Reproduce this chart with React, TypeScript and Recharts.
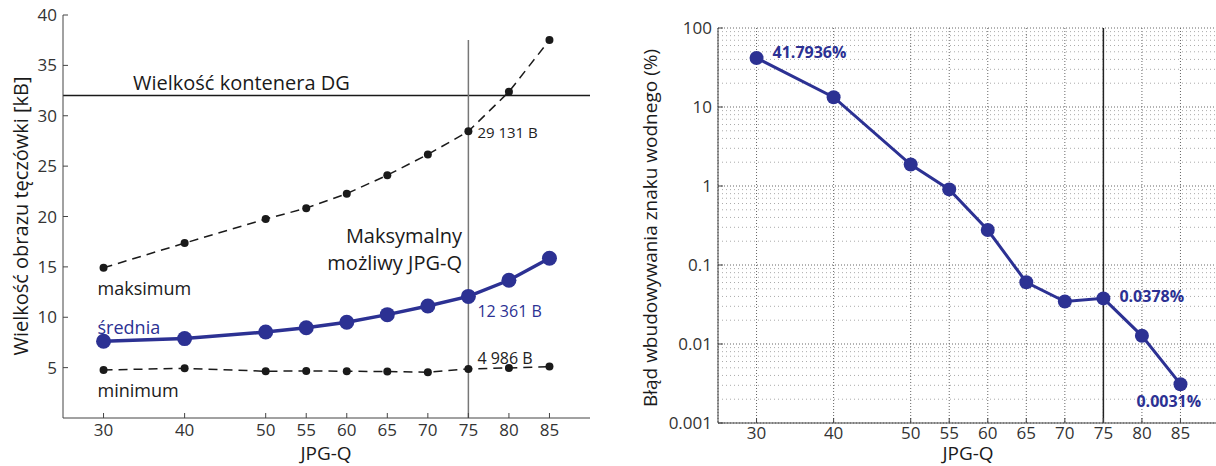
import { LineChart, Line, XAxis, YAxis, CartesianGrid, ReferenceLine } from "recharts";

// JPG quality factors on the x axis of both panels
const quality = [30, 40, 50, 55, 60, 65, 70, 75, 80, 85];

// iris image size [kB]
const sizeMax = [14.91, 17.36, 19.75, 20.83, 22.27, 24.1, 26.16, 28.45, 32.38, 37.51];
const sizeMean = [7.62, 7.88, 8.53, 8.96, 9.51, 10.26, 11.12, 12.07, 13.67, 15.86];
const sizeMin = [4.77, 4.93, 4.64, 4.67, 4.64, 4.61, 4.54, 4.87, 4.97, 5.1];

// watermark embedding error [%]
const errorPct = [41.7936, 13.3, 1.87, 0.906, 0.277, 0.0605, 0.0345, 0.0378, 0.0127, 0.0031];

const sizeTicks = [5, 10, 15, 20, 25, 30, 35, 40];
const errorTicks = [0.001, 0.01, 0.1, 1, 10, 100];
const minorSteps = [2, 3, 4, 5, 6, 7, 8, 9];
const containerKB = 32;
const maxQuality = 75;

const BLUE = "#2c3193";
const INK = "#1a1a1a";
const FONT = "'Open Sans', 'Noto Sans', sans-serif";

type Note = { index: number; text: string; dx: number; dy: number; color: string; size: number; bold?: boolean };

const maxNotes: Note[] = [
  { index: 0, text: "maksimum", dx: -6, dy: 20, color: INK, size: 18 },
  { index: 7, text: "29 131 B", dx: 9, dy: 1, color: "#222", size: 15 },
];
const meanNotes: Note[] = [
  { index: 0, text: "średnia", dx: -6, dy: -14, color: BLUE, size: 18 },
  { index: 7, text: "12 361 B", dx: 9, dy: 15, color: BLUE, size: 16 },
];
const minNotes: Note[] = [
  { index: 0, text: "minimum", dx: -6, dy: 20, color: INK, size: 18 },
  { index: 7, text: "4 986 B", dx: 9, dy: -11, color: "#222", size: 16 },
];
const errNotes: Note[] = [
  { index: 0, text: "41.7936%", dx: 16, dy: -6, color: BLUE, size: 16, bold: true },
  { index: 7, text: "0.0378%", dx: 16, dy: -2, color: BLUE, size: 16, bold: true },
  { index: 9, text: "0.0031%", dx: -44, dy: 17, color: BLUE, size: 16, bold: true },
];

const sizeRows = quality.map((q, i) => ({ q, max: sizeMax[i], mean: sizeMean[i], min: sizeMin[i] }));
const errRows = quality.map((q, i) => ({ q, err: errorPct[i] }));
const minorGrid = errorTicks.slice(0, -1).flatMap((d) => minorSteps.map((m) => +(d * m).toPrecision(3)));

function notes(list: Note[]) {
  return (p: any) => {
    const n = list.find((it) => it.index === p.index);
    if (!n) return null;
    const x = p.x ?? p.viewBox?.x;
    const y = p.y ?? p.viewBox?.y;
    return (
      <text
        key={`note-${p.index}`}
        x={x + n.dx}
        y={y + n.dy}
        fill={n.color}
        fontSize={n.size}
        fontWeight={n.bold ? 700 : 400}
        dominantBaseline="central"
        textAnchor="start"
      >
        {n.text}
      </text>
    );
  };
}

const tickStyle = { fill: "#333", fontSize: 17 };

function SizeChart() {
  return (
    <LineChart width={600} height={466} data={sizeRows} margin={{ top: 15, right: 10, left: 0, bottom: 0 }}>
      <XAxis
        dataKey="q"
        type="number"
        domain={[25, 90]}
        ticks={quality}
        height={48}
        tickSize={-5}
        tickMargin={11}
        stroke="#444"
        tick={tickStyle}
        allowDataOverflow
      />
      <YAxis
        type="number"
        domain={[0, 40]}
        ticks={sizeTicks}
        width={63}
        tickSize={-5}
        tickMargin={11}
        stroke="#444"
        tick={tickStyle}
        allowDataOverflow
      />
      <ReferenceLine y={containerKB} stroke={INK} strokeWidth={1.5} />
      <ReferenceLine
        segment={[
          { x: maxQuality, y: 0 },
          { x: maxQuality, y: Math.max(...sizeMax) },
        ]}
        stroke="#777"
        strokeWidth={1.5}
      />
      <Line
        dataKey="max"
        stroke={INK}
        strokeWidth={1.5}
        strokeDasharray="9 6"
        dot={{ r: 4, fill: INK, stroke: "none" }}
        label={notes(maxNotes)}
        isAnimationActive={false}
      />
      <Line
        dataKey="min"
        stroke={INK}
        strokeWidth={1.5}
        strokeDasharray="9 6"
        dot={{ r: 4, fill: INK, stroke: "none" }}
        label={notes(minNotes)}
        isAnimationActive={false}
      />
      <Line
        dataKey="mean"
        stroke={BLUE}
        strokeWidth={3.5}
        dot={{ r: 7.5, fill: BLUE, stroke: "none" }}
        label={notes(meanNotes)}
        isAnimationActive={false}
      />
      <text x={133} y={82} fontSize={20} fill={INK} dominantBaseline="central">
        Wielkość kontenera DG
      </text>
      <text x={462} y={235} fontSize={20} fill={INK} textAnchor="end" dominantBaseline="central">
        Maksymalny
      </text>
      <text x={462} y={262} fontSize={20} fill={INK} textAnchor="end" dominantBaseline="central">
        możliwy JPG-Q
      </text>
      <text x={326} y={453} fontSize={19} fill={INK} textAnchor="middle" dominantBaseline="central">
        JPG-Q
      </text>
      <text
        transform="translate(20,216) rotate(-90)"
        fontSize={20}
        fill={INK}
        textAnchor="middle"
        dominantBaseline="central"
      >
        Wielkość obrazu tęczówki [kB]
      </text>
    </LineChart>
  );
}

function ErrorChart() {
  return (
    <LineChart width={600} height={466} data={errRows} margin={{ top: 28, right: 1, left: 0, bottom: 0 }}>
      <CartesianGrid stroke="#666" strokeDasharray="1 2" />
      {minorGrid.map((v) => (
        <ReferenceLine key={v} y={v} stroke="#aaa" strokeDasharray="1 3" />
      ))}
      <XAxis
        dataKey="q"
        type="number"
        domain={[25, 90]}
        ticks={quality}
        height={43}
        tickSize={-5}
        tickMargin={9}
        stroke="#444"
        tick={tickStyle}
        allowDataOverflow
      />
      <YAxis
        type="number"
        scale="log"
        domain={[0.001, 100]}
        ticks={errorTicks}
        tickFormatter={(v: number) => String(v)}
        width={98}
        tickSize={-5}
        tickMargin={11}
        stroke="#444"
        tick={tickStyle}
        allowDataOverflow
      />
      <ReferenceLine x={maxQuality} stroke="#222" strokeWidth={1.5} />
      <Line
        dataKey="err"
        stroke={BLUE}
        strokeWidth={3}
        dot={{ r: 7, fill: BLUE, stroke: "none" }}
        label={notes(errNotes)}
        isAnimationActive={false}
      />
      <text x={348} y={453} fontSize={19} fill={INK} textAnchor="middle" dominantBaseline="central">
        JPG-Q
      </text>
      <text
        transform="translate(30,228) rotate(-90)"
        fontSize={19}
        fill={INK}
        textAnchor="middle"
        dominantBaseline="central"
      >
        Błąd wbudowywania znaku wodnego (%)
      </text>
    </LineChart>
  );
}

export default function App() {
  return (
    <div
      style={{
        position: "absolute",
        left: 0,
        top: 0,
        width: 1216,
        height: 466,
        overflow: "hidden",
        background: "#fff",
        fontFamily: FONT,
      }}
    >
      <div style={{ position: "absolute", left: 0, top: 0, width: 600, height: 466 }}>
        <SizeChart />
      </div>
      <div style={{ position: "absolute", left: 620, top: 0, width: 596, height: 466, overflow: "hidden" }}>
        <ErrorChart />
      </div>
    </div>
  );
}
